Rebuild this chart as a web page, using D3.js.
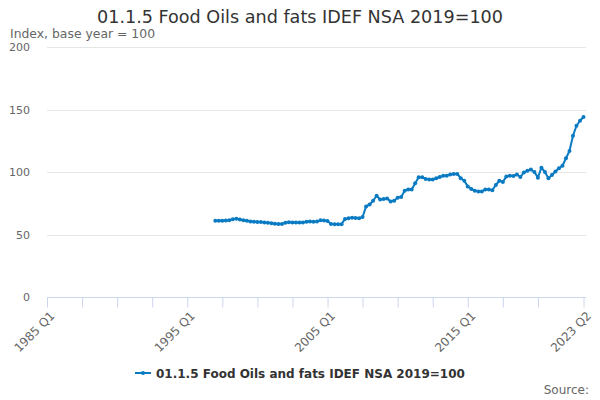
<!DOCTYPE html>
<html>
<head>
<meta charset="utf-8">
<script src="https://cdn.jsdelivr.net/npm/d3@7"></script>
<style>
  body { margin: 0; background: #fff; }
  svg { font-family: "DejaVu Sans", sans-serif; }
</style>
</head>
<body>
<svg id="chart" width="600" height="400"></svg>
<script>
// chart data
const seriesName = "01.1.5 Food Oils and fats IDEF NSA 2019=100";
const firstYear = 1985, lastYear = 2023, lastQuarter = 2;
const seriesStart = "1997 Q1";
const values = [
  61, 61, 61, 61.2, 61.5, 62.3, 62.7, 62, 61.5, 61, 60.5, 60.3, 60, 60, 59.7, 59.5,
  59, 58.6, 58.4, 58.4, 59.5, 59.8, 59.7, 59.7, 59.6, 59.7, 60.2, 60.4, 60.3, 60.5, 61.5, 61.3,
  60.8, 58.4, 58.3, 58.2, 58.3, 62.5, 63, 63.5, 63.3, 63, 64, 72.5, 74, 77, 81, 78,
  78.5, 78.8, 76.5, 77, 79.5, 80, 85, 86, 86, 91, 95.8, 95.8, 94.5, 94, 94, 95,
  96, 97, 97, 98, 98.5, 98.5, 95, 93, 88.5, 86.5, 85, 84.5, 84.5, 86, 86, 85.5,
  89.6, 93, 92, 96.5, 97, 96.8, 98, 96, 99.7, 101, 102, 100, 95.5, 103.5, 100, 95,
  97.6, 100.4, 103, 105, 111, 116.8, 129, 137, 141, 144
];
const yTicks = [0, 50, 100, 150, 200];
const labelledTicks = ["1985 Q1", "1995 Q1", "2005 Q1", "2015 Q1", "2023 Q2"];

// quarterly categories
const quarters = [];
for (let y = firstYear; y <= lastYear; y++) {
  for (let q = 1; q <= 4; q++) {
    if (y === lastYear && q > lastQuarter) break;
    quarters.push(`${y} Q${q}`);
  }
}
const startIdx = quarters.indexOf(seriesStart);
const data = values.map((v, i) => ({ q: quarters[startIdx + i], v: v }));

const margin = { top: 47, right: 16.5, bottom: 103, left: 47 };
const width = 600, height = 400;

const svg = d3.select("#chart");

const x = d3.scalePoint()
  .domain(quarters)
  .range([margin.left, width - margin.right]);

const y = d3.scaleLinear()
  .domain([0, 200])
  .range([height - margin.bottom, margin.top]);

// title
svg.append("text")
  .attr("x", 300).attr("y", 22.5)
  .attr("text-anchor", "middle")
  .style("font-size", "17.6px")
  .style("fill", "#333")
  .text(seriesName);

svg.append("text")
  .attr("x", 10).attr("y", 38)
  .style("font-size", "12.4px")
  .style("fill", "#666")
  .text("Index, base year = 100");

// grid + y labels
svg.append("g")
  .selectAll("line")
  .data(yTicks.filter(d => d > 0))
  .join("line")
  .attr("x1", margin.left).attr("x2", width - 14)
  .attr("y1", d => Math.round(y(d)) + 0.5).attr("y2", d => Math.round(y(d)) + 0.5)
  .attr("stroke", "#e6e6e6");

svg.append("g")
  .selectAll("text")
  .data(yTicks)
  .join("text")
  .attr("x", 30)
  .attr("y", d => y(d) + 4)
  .attr("text-anchor", "end")
  .style("font-size", "11px")
  .style("fill", "#666")
  .text(d => d);

// x axis
const tickVals = quarters.filter((d, i) => i % 10 === 0 && i <= 140).concat([quarters[quarters.length - 1]]);
const xAxis = d3.axisBottom(x)
  .tickValues(tickVals)
  .tickSize(10)
  .tickSizeOuter(0)
  .tickFormat(d => labelledTicks.includes(d) ? d : "");

const xg = svg.append("g")
  .attr("transform", `translate(0,${Math.round(y(0)) + 0.5})`)
  .call(xAxis);
xg.select(".domain").attr("stroke", "#ccd6eb").attr("d", `M${margin.left},0H${width - 14}`);
xg.selectAll(".tick line").attr("stroke", "#ccd6eb");
xg.selectAll(".tick text")
  .attr("transform", "translate(8,19) rotate(-45)")
  .attr("text-anchor", "end")
  .attr("dy", null)
  .attr("y", 0)
  .attr("x", 0)
  .style("font-size", "12px")
  .style("font-family", "DejaVu Sans, sans-serif")
  .style("fill", "#666");

// line
const blue = "#0a7bc2";
const line = d3.line()
  .x(d => x(d.q))
  .y(d => y(d.v));

svg.append("path")
  .datum(data)
  .attr("fill", "none")
  .attr("stroke", blue)
  .attr("stroke-width", 2)
  .attr("stroke-linejoin", "round")
  .attr("d", line);

svg.append("g")
  .selectAll("circle")
  .data(data)
  .join("circle")
  .attr("cx", d => x(d.q))
  .attr("cy", d => y(d.v))
  .attr("r", 2)
  .attr("fill", blue);

// legend
const lg = svg.append("g").attr("transform", "translate(135,373)");
lg.append("line")
  .attr("x1", 0).attr("x2", 16)
  .attr("y1", 0).attr("y2", 0)
  .attr("stroke", blue).attr("stroke-width", 2);
lg.append("circle").attr("cx", 8).attr("cy", 0).attr("r", 2).attr("fill", blue);
lg.append("text")
  .attr("x", 21).attr("y", 5)
  .style("font-size", "12px")
  .style("font-weight", "bold")
  .style("fill", "#333")
  .text(seriesName);

svg.append("text")
  .attr("x", 589).attr("y", 394)
  .attr("text-anchor", "end")
  .style("font-size", "12px")
  .style("fill", "#666")
  .text("Source:");
</script>
</body>
</html>
